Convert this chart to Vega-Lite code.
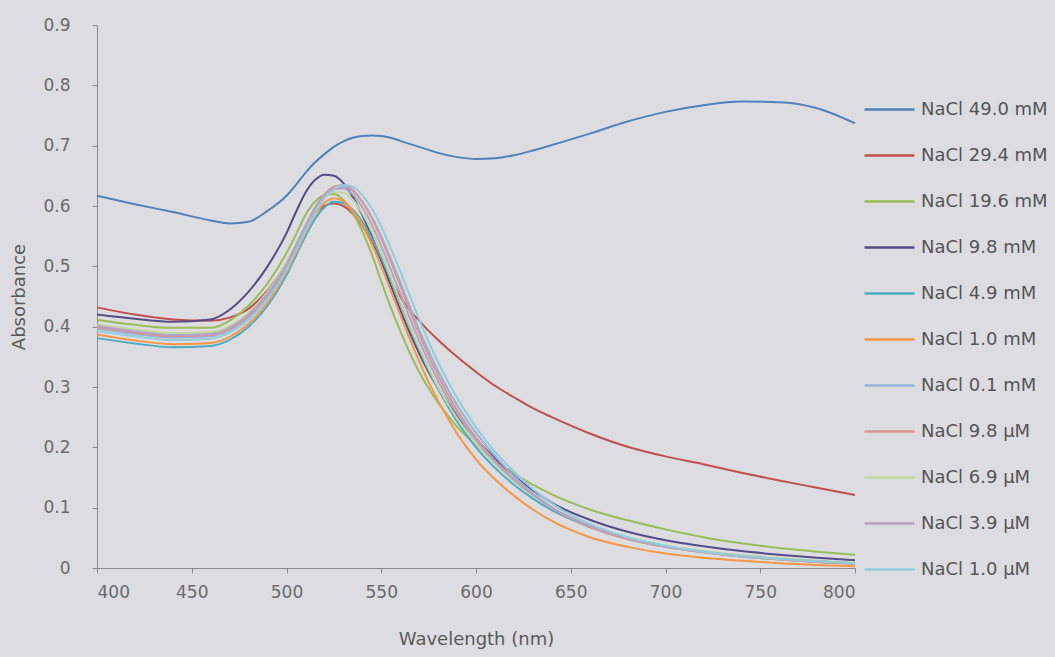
{
  "$schema": "https://vega.github.io/schema/vega-lite/v6.json",
  "autosize": {"type": "none"},
  "padding": {"left": 97, "top": 25, "right": 200, "bottom": 89},
  "width": 758,
  "height": 543,
  "background": "#dddde1",
  "config": {
    "view": {"stroke": null},
    "font": "DejaVu Sans",
    "axis": {"labelFont": "DejaVu Sans", "titleFont": "DejaVu Sans", "labelColor": "#6a6a6a", "titleColor": "#5a5a5a", "domainColor": "#8a8a8a", "tickColor": "#8a8a8a", "grid": false},
    "legend": {"labelFont": "DejaVu Sans"}
  },
  "data": {
    "values": [
      {"s":"NaCl 49.0 mM","w":400,"a":0.617},{"s":"NaCl 49.0 mM","w":420,"a":0.603},{"s":"NaCl 49.0 mM","w":440,"a":0.590},{"s":"NaCl 49.0 mM","w":460,"a":0.576},{"s":"NaCl 49.0 mM","w":470,"a":0.571},{"s":"NaCl 49.0 mM","w":480,"a":0.574},{"s":"NaCl 49.0 mM","w":490,"a":0.592},{"s":"NaCl 49.0 mM","w":500,"a":0.617},{"s":"NaCl 49.0 mM","w":505,"a":0.635},{"s":"NaCl 49.0 mM","w":510,"a":0.655},{"s":"NaCl 49.0 mM","w":515,"a":0.672},{"s":"NaCl 49.0 mM","w":520,"a":0.686},{"s":"NaCl 49.0 mM","w":525,"a":0.698},{"s":"NaCl 49.0 mM","w":530,"a":0.707},{"s":"NaCl 49.0 mM","w":535,"a":0.713},{"s":"NaCl 49.0 mM","w":540,"a":0.716},{"s":"NaCl 49.0 mM","w":545,"a":0.717},{"s":"NaCl 49.0 mM","w":550,"a":0.716},{"s":"NaCl 49.0 mM","w":555,"a":0.713},{"s":"NaCl 49.0 mM","w":560,"a":0.708},{"s":"NaCl 49.0 mM","w":565,"a":0.703},{"s":"NaCl 49.0 mM","w":570,"a":0.698},{"s":"NaCl 49.0 mM","w":575,"a":0.693},{"s":"NaCl 49.0 mM","w":580,"a":0.688},{"s":"NaCl 49.0 mM","w":590,"a":0.681},{"s":"NaCl 49.0 mM","w":600,"a":0.678},{"s":"NaCl 49.0 mM","w":610,"a":0.679},{"s":"NaCl 49.0 mM","w":620,"a":0.684},{"s":"NaCl 49.0 mM","w":630,"a":0.692},{"s":"NaCl 49.0 mM","w":640,"a":0.701},{"s":"NaCl 49.0 mM","w":660,"a":0.720},{"s":"NaCl 49.0 mM","w":680,"a":0.740},{"s":"NaCl 49.0 mM","w":700,"a":0.756},{"s":"NaCl 49.0 mM","w":720,"a":0.767},{"s":"NaCl 49.0 mM","w":740,"a":0.773},{"s":"NaCl 49.0 mM","w":760,"a":0.772},{"s":"NaCl 49.0 mM","w":780,"a":0.762},{"s":"NaCl 49.0 mM","w":800,"a":0.737},

      {"s":"NaCl 29.4 mM","w":400,"a":0.432},{"s":"NaCl 29.4 mM","w":420,"a":0.420},{"s":"NaCl 29.4 mM","w":440,"a":0.412},{"s":"NaCl 29.4 mM","w":460,"a":0.410},{"s":"NaCl 29.4 mM","w":470,"a":0.415},{"s":"NaCl 29.4 mM","w":480,"a":0.430},{"s":"NaCl 29.4 mM","w":490,"a":0.460},{"s":"NaCl 29.4 mM","w":500,"a":0.505},{"s":"NaCl 29.4 mM","w":505,"a":0.535},{"s":"NaCl 29.4 mM","w":510,"a":0.565},{"s":"NaCl 29.4 mM","w":515,"a":0.588},{"s":"NaCl 29.4 mM","w":520,"a":0.600},{"s":"NaCl 29.4 mM","w":525,"a":0.604},{"s":"NaCl 29.4 mM","w":530,"a":0.600},{"s":"NaCl 29.4 mM","w":535,"a":0.587},{"s":"NaCl 29.4 mM","w":540,"a":0.567},{"s":"NaCl 29.4 mM","w":545,"a":0.540},{"s":"NaCl 29.4 mM","w":550,"a":0.510},{"s":"NaCl 29.4 mM","w":555,"a":0.478},{"s":"NaCl 29.4 mM","w":560,"a":0.450},{"s":"NaCl 29.4 mM","w":565,"a":0.428},{"s":"NaCl 29.4 mM","w":570,"a":0.410},{"s":"NaCl 29.4 mM","w":575,"a":0.393},{"s":"NaCl 29.4 mM","w":580,"a":0.378},{"s":"NaCl 29.4 mM","w":590,"a":0.350},{"s":"NaCl 29.4 mM","w":600,"a":0.325},{"s":"NaCl 29.4 mM","w":610,"a":0.302},{"s":"NaCl 29.4 mM","w":620,"a":0.283},{"s":"NaCl 29.4 mM","w":630,"a":0.265},{"s":"NaCl 29.4 mM","w":640,"a":0.250},{"s":"NaCl 29.4 mM","w":660,"a":0.223},{"s":"NaCl 29.4 mM","w":680,"a":0.201},{"s":"NaCl 29.4 mM","w":700,"a":0.185},{"s":"NaCl 29.4 mM","w":720,"a":0.172},{"s":"NaCl 29.4 mM","w":740,"a":0.158},{"s":"NaCl 29.4 mM","w":760,"a":0.145},{"s":"NaCl 29.4 mM","w":780,"a":0.133},{"s":"NaCl 29.4 mM","w":800,"a":0.121},

      {"s":"NaCl 19.6 mM","w":400,"a":0.411},{"s":"NaCl 19.6 mM","w":420,"a":0.403},{"s":"NaCl 19.6 mM","w":440,"a":0.398},{"s":"NaCl 19.6 mM","w":460,"a":0.398},{"s":"NaCl 19.6 mM","w":470,"a":0.410},{"s":"NaCl 19.6 mM","w":480,"a":0.435},{"s":"NaCl 19.6 mM","w":490,"a":0.472},{"s":"NaCl 19.6 mM","w":500,"a":0.522},{"s":"NaCl 19.6 mM","w":505,"a":0.553},{"s":"NaCl 19.6 mM","w":510,"a":0.585},{"s":"NaCl 19.6 mM","w":515,"a":0.607},{"s":"NaCl 19.6 mM","w":520,"a":0.618},{"s":"NaCl 19.6 mM","w":525,"a":0.620},{"s":"NaCl 19.6 mM","w":530,"a":0.610},{"s":"NaCl 19.6 mM","w":535,"a":0.588},{"s":"NaCl 19.6 mM","w":540,"a":0.558},{"s":"NaCl 19.6 mM","w":545,"a":0.520},{"s":"NaCl 19.6 mM","w":550,"a":0.475},{"s":"NaCl 19.6 mM","w":555,"a":0.432},{"s":"NaCl 19.6 mM","w":560,"a":0.393},{"s":"NaCl 19.6 mM","w":565,"a":0.357},{"s":"NaCl 19.6 mM","w":570,"a":0.325},{"s":"NaCl 19.6 mM","w":575,"a":0.298},{"s":"NaCl 19.6 mM","w":580,"a":0.274},{"s":"NaCl 19.6 mM","w":590,"a":0.234},{"s":"NaCl 19.6 mM","w":600,"a":0.204},{"s":"NaCl 19.6 mM","w":610,"a":0.178},{"s":"NaCl 19.6 mM","w":620,"a":0.157},{"s":"NaCl 19.6 mM","w":630,"a":0.138},{"s":"NaCl 19.6 mM","w":640,"a":0.122},{"s":"NaCl 19.6 mM","w":660,"a":0.097},{"s":"NaCl 19.6 mM","w":680,"a":0.079},{"s":"NaCl 19.6 mM","w":700,"a":0.064},{"s":"NaCl 19.6 mM","w":720,"a":0.051},{"s":"NaCl 19.6 mM","w":740,"a":0.041},{"s":"NaCl 19.6 mM","w":760,"a":0.033},{"s":"NaCl 19.6 mM","w":780,"a":0.027},{"s":"NaCl 19.6 mM","w":800,"a":0.022},

      {"s":"NaCl 9.8 mM","w":400,"a":0.420},{"s":"NaCl 9.8 mM","w":420,"a":0.413},{"s":"NaCl 9.8 mM","w":440,"a":0.408},{"s":"NaCl 9.8 mM","w":460,"a":0.412},{"s":"NaCl 9.8 mM","w":470,"a":0.428},{"s":"NaCl 9.8 mM","w":480,"a":0.458},{"s":"NaCl 9.8 mM","w":490,"a":0.500},{"s":"NaCl 9.8 mM","w":500,"a":0.555},{"s":"NaCl 9.8 mM","w":505,"a":0.590},{"s":"NaCl 9.8 mM","w":510,"a":0.622},{"s":"NaCl 9.8 mM","w":515,"a":0.643},{"s":"NaCl 9.8 mM","w":520,"a":0.652},{"s":"NaCl 9.8 mM","w":525,"a":0.650},{"s":"NaCl 9.8 mM","w":530,"a":0.638},{"s":"NaCl 9.8 mM","w":535,"a":0.615},{"s":"NaCl 9.8 mM","w":540,"a":0.585},{"s":"NaCl 9.8 mM","w":545,"a":0.550},{"s":"NaCl 9.8 mM","w":550,"a":0.510},{"s":"NaCl 9.8 mM","w":555,"a":0.468},{"s":"NaCl 9.8 mM","w":560,"a":0.428},{"s":"NaCl 9.8 mM","w":565,"a":0.390},{"s":"NaCl 9.8 mM","w":570,"a":0.356},{"s":"NaCl 9.8 mM","w":575,"a":0.325},{"s":"NaCl 9.8 mM","w":580,"a":0.298},{"s":"NaCl 9.8 mM","w":590,"a":0.252},{"s":"NaCl 9.8 mM","w":600,"a":0.214},{"s":"NaCl 9.8 mM","w":610,"a":0.182},{"s":"NaCl 9.8 mM","w":620,"a":0.153},{"s":"NaCl 9.8 mM","w":630,"a":0.129},{"s":"NaCl 9.8 mM","w":640,"a":0.108},{"s":"NaCl 9.8 mM","w":660,"a":0.080},{"s":"NaCl 9.8 mM","w":680,"a":0.060},{"s":"NaCl 9.8 mM","w":700,"a":0.046},{"s":"NaCl 9.8 mM","w":720,"a":0.036},{"s":"NaCl 9.8 mM","w":740,"a":0.028},{"s":"NaCl 9.8 mM","w":760,"a":0.022},{"s":"NaCl 9.8 mM","w":780,"a":0.017},{"s":"NaCl 9.8 mM","w":800,"a":0.013},

      {"s":"NaCl 4.9 mM","w":400,"a":0.381},{"s":"NaCl 4.9 mM","w":420,"a":0.372},{"s":"NaCl 4.9 mM","w":440,"a":0.366},{"s":"NaCl 4.9 mM","w":460,"a":0.368},{"s":"NaCl 4.9 mM","w":470,"a":0.378},{"s":"NaCl 4.9 mM","w":480,"a":0.400},{"s":"NaCl 4.9 mM","w":490,"a":0.435},{"s":"NaCl 4.9 mM","w":500,"a":0.485},{"s":"NaCl 4.9 mM","w":505,"a":0.518},{"s":"NaCl 4.9 mM","w":510,"a":0.550},{"s":"NaCl 4.9 mM","w":515,"a":0.578},{"s":"NaCl 4.9 mM","w":520,"a":0.598},{"s":"NaCl 4.9 mM","w":525,"a":0.607},{"s":"NaCl 4.9 mM","w":530,"a":0.605},{"s":"NaCl 4.9 mM","w":535,"a":0.594},{"s":"NaCl 4.9 mM","w":540,"a":0.574},{"s":"NaCl 4.9 mM","w":545,"a":0.547},{"s":"NaCl 4.9 mM","w":550,"a":0.514},{"s":"NaCl 4.9 mM","w":555,"a":0.477},{"s":"NaCl 4.9 mM","w":560,"a":0.439},{"s":"NaCl 4.9 mM","w":565,"a":0.400},{"s":"NaCl 4.9 mM","w":570,"a":0.363},{"s":"NaCl 4.9 mM","w":575,"a":0.328},{"s":"NaCl 4.9 mM","w":580,"a":0.297},{"s":"NaCl 4.9 mM","w":590,"a":0.243},{"s":"NaCl 4.9 mM","w":600,"a":0.200},{"s":"NaCl 4.9 mM","w":610,"a":0.166},{"s":"NaCl 4.9 mM","w":620,"a":0.138},{"s":"NaCl 4.9 mM","w":630,"a":0.115},{"s":"NaCl 4.9 mM","w":640,"a":0.096},{"s":"NaCl 4.9 mM","w":660,"a":0.068},{"s":"NaCl 4.9 mM","w":680,"a":0.048},{"s":"NaCl 4.9 mM","w":700,"a":0.035},{"s":"NaCl 4.9 mM","w":720,"a":0.026},{"s":"NaCl 4.9 mM","w":740,"a":0.019},{"s":"NaCl 4.9 mM","w":760,"a":0.014},{"s":"NaCl 4.9 mM","w":780,"a":0.010},{"s":"NaCl 4.9 mM","w":800,"a":0.007},

      {"s":"NaCl 1.0 mM","w":400,"a":0.387},{"s":"NaCl 1.0 mM","w":420,"a":0.377},{"s":"NaCl 1.0 mM","w":440,"a":0.371},{"s":"NaCl 1.0 mM","w":460,"a":0.373},{"s":"NaCl 1.0 mM","w":470,"a":0.383},{"s":"NaCl 1.0 mM","w":480,"a":0.405},{"s":"NaCl 1.0 mM","w":490,"a":0.440},{"s":"NaCl 1.0 mM","w":500,"a":0.490},{"s":"NaCl 1.0 mM","w":505,"a":0.522},{"s":"NaCl 1.0 mM","w":510,"a":0.555},{"s":"NaCl 1.0 mM","w":515,"a":0.585},{"s":"NaCl 1.0 mM","w":520,"a":0.605},{"s":"NaCl 1.0 mM","w":525,"a":0.613},{"s":"NaCl 1.0 mM","w":530,"a":0.608},{"s":"NaCl 1.0 mM","w":535,"a":0.592},{"s":"NaCl 1.0 mM","w":540,"a":0.568},{"s":"NaCl 1.0 mM","w":545,"a":0.537},{"s":"NaCl 1.0 mM","w":550,"a":0.500},{"s":"NaCl 1.0 mM","w":555,"a":0.460},{"s":"NaCl 1.0 mM","w":560,"a":0.420},{"s":"NaCl 1.0 mM","w":565,"a":0.380},{"s":"NaCl 1.0 mM","w":570,"a":0.343},{"s":"NaCl 1.0 mM","w":575,"a":0.308},{"s":"NaCl 1.0 mM","w":580,"a":0.277},{"s":"NaCl 1.0 mM","w":590,"a":0.223},{"s":"NaCl 1.0 mM","w":600,"a":0.180},{"s":"NaCl 1.0 mM","w":610,"a":0.147},{"s":"NaCl 1.0 mM","w":620,"a":0.120},{"s":"NaCl 1.0 mM","w":630,"a":0.097},{"s":"NaCl 1.0 mM","w":640,"a":0.078},{"s":"NaCl 1.0 mM","w":660,"a":0.051},{"s":"NaCl 1.0 mM","w":680,"a":0.035},{"s":"NaCl 1.0 mM","w":700,"a":0.024},{"s":"NaCl 1.0 mM","w":720,"a":0.017},{"s":"NaCl 1.0 mM","w":740,"a":0.012},{"s":"NaCl 1.0 mM","w":760,"a":0.008},{"s":"NaCl 1.0 mM","w":780,"a":0.005},{"s":"NaCl 1.0 mM","w":800,"a":0.003},

      {"s":"NaCl 0.1 mM","w":400,"a":0.397},{"s":"NaCl 0.1 mM","w":420,"a":0.388},{"s":"NaCl 0.1 mM","w":440,"a":0.382},{"s":"NaCl 0.1 mM","w":460,"a":0.384},{"s":"NaCl 0.1 mM","w":470,"a":0.394},{"s":"NaCl 0.1 mM","w":480,"a":0.415},{"s":"NaCl 0.1 mM","w":490,"a":0.450},{"s":"NaCl 0.1 mM","w":500,"a":0.498},{"s":"NaCl 0.1 mM","w":505,"a":0.530},{"s":"NaCl 0.1 mM","w":510,"a":0.562},{"s":"NaCl 0.1 mM","w":515,"a":0.592},{"s":"NaCl 0.1 mM","w":520,"a":0.615},{"s":"NaCl 0.1 mM","w":525,"a":0.628},{"s":"NaCl 0.1 mM","w":530,"a":0.632},{"s":"NaCl 0.1 mM","w":535,"a":0.625},{"s":"NaCl 0.1 mM","w":540,"a":0.607},{"s":"NaCl 0.1 mM","w":545,"a":0.582},{"s":"NaCl 0.1 mM","w":550,"a":0.550},{"s":"NaCl 0.1 mM","w":555,"a":0.513},{"s":"NaCl 0.1 mM","w":560,"a":0.474},{"s":"NaCl 0.1 mM","w":565,"a":0.434},{"s":"NaCl 0.1 mM","w":570,"a":0.395},{"s":"NaCl 0.1 mM","w":575,"a":0.360},{"s":"NaCl 0.1 mM","w":580,"a":0.327},{"s":"NaCl 0.1 mM","w":590,"a":0.270},{"s":"NaCl 0.1 mM","w":600,"a":0.224},{"s":"NaCl 0.1 mM","w":610,"a":0.186},{"s":"NaCl 0.1 mM","w":620,"a":0.152},{"s":"NaCl 0.1 mM","w":630,"a":0.124},{"s":"NaCl 0.1 mM","w":640,"a":0.101},{"s":"NaCl 0.1 mM","w":660,"a":0.070},{"s":"NaCl 0.1 mM","w":680,"a":0.050},{"s":"NaCl 0.1 mM","w":700,"a":0.036},{"s":"NaCl 0.1 mM","w":720,"a":0.027},{"s":"NaCl 0.1 mM","w":740,"a":0.020},{"s":"NaCl 0.1 mM","w":760,"a":0.015},{"s":"NaCl 0.1 mM","w":780,"a":0.011},{"s":"NaCl 0.1 mM","w":800,"a":0.008},

      {"s":"NaCl 9.8 μM","w":400,"a":0.399},{"s":"NaCl 9.8 μM","w":420,"a":0.390},{"s":"NaCl 9.8 μM","w":440,"a":0.384},{"s":"NaCl 9.8 μM","w":460,"a":0.386},{"s":"NaCl 9.8 μM","w":470,"a":0.396},{"s":"NaCl 9.8 μM","w":480,"a":0.418},{"s":"NaCl 9.8 μM","w":490,"a":0.453},{"s":"NaCl 9.8 μM","w":500,"a":0.502},{"s":"NaCl 9.8 μM","w":505,"a":0.534},{"s":"NaCl 9.8 μM","w":510,"a":0.567},{"s":"NaCl 9.8 μM","w":515,"a":0.597},{"s":"NaCl 9.8 μM","w":520,"a":0.619},{"s":"NaCl 9.8 μM","w":525,"a":0.632},{"s":"NaCl 9.8 μM","w":530,"a":0.635},{"s":"NaCl 9.8 μM","w":535,"a":0.627},{"s":"NaCl 9.8 μM","w":540,"a":0.607},{"s":"NaCl 9.8 μM","w":545,"a":0.580},{"s":"NaCl 9.8 μM","w":550,"a":0.546},{"s":"NaCl 9.8 μM","w":555,"a":0.508},{"s":"NaCl 9.8 μM","w":560,"a":0.468},{"s":"NaCl 9.8 μM","w":565,"a":0.427},{"s":"NaCl 9.8 μM","w":570,"a":0.388},{"s":"NaCl 9.8 μM","w":575,"a":0.352},{"s":"NaCl 9.8 μM","w":580,"a":0.319},{"s":"NaCl 9.8 μM","w":590,"a":0.262},{"s":"NaCl 9.8 μM","w":600,"a":0.216},{"s":"NaCl 9.8 μM","w":610,"a":0.178},{"s":"NaCl 9.8 μM","w":620,"a":0.147},{"s":"NaCl 9.8 μM","w":630,"a":0.121},{"s":"NaCl 9.8 μM","w":640,"a":0.099},{"s":"NaCl 9.8 μM","w":660,"a":0.068},{"s":"NaCl 9.8 μM","w":680,"a":0.048},{"s":"NaCl 9.8 μM","w":700,"a":0.035},{"s":"NaCl 9.8 μM","w":720,"a":0.026},{"s":"NaCl 9.8 μM","w":740,"a":0.019},{"s":"NaCl 9.8 μM","w":760,"a":0.014},{"s":"NaCl 9.8 μM","w":780,"a":0.010},{"s":"NaCl 9.8 μM","w":800,"a":0.007},

      {"s":"NaCl 6.9 μM","w":400,"a":0.404},{"s":"NaCl 6.9 μM","w":420,"a":0.395},{"s":"NaCl 6.9 μM","w":440,"a":0.389},{"s":"NaCl 6.9 μM","w":460,"a":0.391},{"s":"NaCl 6.9 μM","w":470,"a":0.401},{"s":"NaCl 6.9 μM","w":480,"a":0.423},{"s":"NaCl 6.9 μM","w":490,"a":0.458},{"s":"NaCl 6.9 μM","w":500,"a":0.506},{"s":"NaCl 6.9 μM","w":505,"a":0.537},{"s":"NaCl 6.9 μM","w":510,"a":0.568},{"s":"NaCl 6.9 μM","w":515,"a":0.595},{"s":"NaCl 6.9 μM","w":520,"a":0.614},{"s":"NaCl 6.9 μM","w":525,"a":0.623},{"s":"NaCl 6.9 μM","w":530,"a":0.622},{"s":"NaCl 6.9 μM","w":535,"a":0.610},{"s":"NaCl 6.9 μM","w":540,"a":0.588},{"s":"NaCl 6.9 μM","w":545,"a":0.558},{"s":"NaCl 6.9 μM","w":550,"a":0.522},{"s":"NaCl 6.9 μM","w":555,"a":0.482},{"s":"NaCl 6.9 μM","w":560,"a":0.442},{"s":"NaCl 6.9 μM","w":565,"a":0.402},{"s":"NaCl 6.9 μM","w":570,"a":0.365},{"s":"NaCl 6.9 μM","w":575,"a":0.331},{"s":"NaCl 6.9 μM","w":580,"a":0.300},{"s":"NaCl 6.9 μM","w":590,"a":0.248},{"s":"NaCl 6.9 μM","w":600,"a":0.206},{"s":"NaCl 6.9 μM","w":610,"a":0.172},{"s":"NaCl 6.9 μM","w":620,"a":0.144},{"s":"NaCl 6.9 μM","w":630,"a":0.120},{"s":"NaCl 6.9 μM","w":640,"a":0.100},{"s":"NaCl 6.9 μM","w":660,"a":0.071},{"s":"NaCl 6.9 μM","w":680,"a":0.051},{"s":"NaCl 6.9 μM","w":700,"a":0.037},{"s":"NaCl 6.9 μM","w":720,"a":0.028},{"s":"NaCl 6.9 μM","w":740,"a":0.021},{"s":"NaCl 6.9 μM","w":760,"a":0.016},{"s":"NaCl 6.9 μM","w":780,"a":0.012},{"s":"NaCl 6.9 μM","w":800,"a":0.009},

      {"s":"NaCl 3.9 μM","w":400,"a":0.401},{"s":"NaCl 3.9 μM","w":420,"a":0.392},{"s":"NaCl 3.9 μM","w":440,"a":0.386},{"s":"NaCl 3.9 μM","w":460,"a":0.388},{"s":"NaCl 3.9 μM","w":470,"a":0.398},{"s":"NaCl 3.9 μM","w":480,"a":0.420},{"s":"NaCl 3.9 μM","w":490,"a":0.455},{"s":"NaCl 3.9 μM","w":500,"a":0.503},{"s":"NaCl 3.9 μM","w":505,"a":0.535},{"s":"NaCl 3.9 μM","w":510,"a":0.567},{"s":"NaCl 3.9 μM","w":515,"a":0.596},{"s":"NaCl 3.9 μM","w":520,"a":0.617},{"s":"NaCl 3.9 μM","w":525,"a":0.628},{"s":"NaCl 3.9 μM","w":530,"a":0.629},{"s":"NaCl 3.9 μM","w":535,"a":0.619},{"s":"NaCl 3.9 μM","w":540,"a":0.598},{"s":"NaCl 3.9 μM","w":545,"a":0.569},{"s":"NaCl 3.9 μM","w":550,"a":0.534},{"s":"NaCl 3.9 μM","w":555,"a":0.495},{"s":"NaCl 3.9 μM","w":560,"a":0.455},{"s":"NaCl 3.9 μM","w":565,"a":0.415},{"s":"NaCl 3.9 μM","w":570,"a":0.377},{"s":"NaCl 3.9 μM","w":575,"a":0.342},{"s":"NaCl 3.9 μM","w":580,"a":0.310},{"s":"NaCl 3.9 μM","w":590,"a":0.256},{"s":"NaCl 3.9 μM","w":600,"a":0.212},{"s":"NaCl 3.9 μM","w":610,"a":0.176},{"s":"NaCl 3.9 μM","w":620,"a":0.146},{"s":"NaCl 3.9 μM","w":630,"a":0.121},{"s":"NaCl 3.9 μM","w":640,"a":0.100},{"s":"NaCl 3.9 μM","w":660,"a":0.070},{"s":"NaCl 3.9 μM","w":680,"a":0.050},{"s":"NaCl 3.9 μM","w":700,"a":0.036},{"s":"NaCl 3.9 μM","w":720,"a":0.027},{"s":"NaCl 3.9 μM","w":740,"a":0.020},{"s":"NaCl 3.9 μM","w":760,"a":0.015},{"s":"NaCl 3.9 μM","w":780,"a":0.011},{"s":"NaCl 3.9 μM","w":800,"a":0.008},

      {"s":"NaCl 1.0 μM","w":400,"a":0.393},{"s":"NaCl 1.0 μM","w":420,"a":0.384},{"s":"NaCl 1.0 μM","w":440,"a":0.378},{"s":"NaCl 1.0 μM","w":460,"a":0.380},{"s":"NaCl 1.0 μM","w":470,"a":0.390},{"s":"NaCl 1.0 μM","w":480,"a":0.411},{"s":"NaCl 1.0 μM","w":490,"a":0.446},{"s":"NaCl 1.0 μM","w":500,"a":0.494},{"s":"NaCl 1.0 μM","w":505,"a":0.526},{"s":"NaCl 1.0 μM","w":510,"a":0.558},{"s":"NaCl 1.0 μM","w":515,"a":0.588},{"s":"NaCl 1.0 μM","w":520,"a":0.613},{"s":"NaCl 1.0 μM","w":525,"a":0.628},{"s":"NaCl 1.0 μM","w":530,"a":0.635},{"s":"NaCl 1.0 μM","w":535,"a":0.632},{"s":"NaCl 1.0 μM","w":540,"a":0.618},{"s":"NaCl 1.0 μM","w":545,"a":0.596},{"s":"NaCl 1.0 μM","w":550,"a":0.566},{"s":"NaCl 1.0 μM","w":555,"a":0.530},{"s":"NaCl 1.0 μM","w":560,"a":0.492},{"s":"NaCl 1.0 μM","w":565,"a":0.452},{"s":"NaCl 1.0 μM","w":570,"a":0.412},{"s":"NaCl 1.0 μM","w":575,"a":0.375},{"s":"NaCl 1.0 μM","w":580,"a":0.341},{"s":"NaCl 1.0 μM","w":590,"a":0.282},{"s":"NaCl 1.0 μM","w":600,"a":0.233},{"s":"NaCl 1.0 μM","w":610,"a":0.193},{"s":"NaCl 1.0 μM","w":620,"a":0.160},{"s":"NaCl 1.0 μM","w":630,"a":0.131},{"s":"NaCl 1.0 μM","w":640,"a":0.107},{"s":"NaCl 1.0 μM","w":660,"a":0.073},{"s":"NaCl 1.0 μM","w":680,"a":0.051},{"s":"NaCl 1.0 μM","w":700,"a":0.037},{"s":"NaCl 1.0 μM","w":720,"a":0.027},{"s":"NaCl 1.0 μM","w":740,"a":0.020},{"s":"NaCl 1.0 μM","w":760,"a":0.015},{"s":"NaCl 1.0 μM","w":780,"a":0.011},{"s":"NaCl 1.0 μM","w":800,"a":0.008}
    ]
  },
  "mark": {"type": "line", "interpolate": "monotone", "strokeWidth": 2},
  "encoding": {
    "x": {
      "field": "w", "type": "quantitative",
      "scale": {"domain": [400, 800], "nice": false, "zero": false},
      "axis": {"values": [400, 450, 500, 550, 600, 650, 700, 750, 800], "title": "Wavelength (nm)", "titleFontSize": 18, "titleFontWeight": "normal", "titlePadding": 30, "labelFontSize": 17, "labelPadding": 11, "tickSize": 5}
    },
    "y": {
      "field": "a", "type": "quantitative",
      "scale": {"domain": [0, 0.9], "nice": false},
      "axis": {"values": [0, 0.1, 0.2, 0.3, 0.4, 0.5, 0.6, 0.7, 0.8, 0.9], "format": "~g", "title": "Absorbance", "titleFontSize": 18, "titleFontWeight": "normal", "titlePadding": 14, "labelFontSize": 17, "labelPadding": 22, "tickSize": 5}
    },
    "color": {
      "field": "s", "type": "nominal",
      "scale": {
        "domain": ["NaCl 49.0 mM", "NaCl 29.4 mM", "NaCl 19.6 mM", "NaCl 9.8 mM", "NaCl 4.9 mM", "NaCl 1.0 mM", "NaCl 0.1 mM", "NaCl 9.8 μM", "NaCl 6.9 μM", "NaCl 3.9 μM", "NaCl 1.0 μM"],
        "range": ["#4f81bd", "#c0504d", "#9bbb59", "#544d87", "#4bacc6", "#f79646", "#95b3d7", "#d99694", "#c3d69b", "#b3a2c7", "#93cddd"]
      },
      "legend": {
        "title": null, "orient": "none", "legendX": 766, "legendY": 58,
        "symbolType": "stroke", "symbolSize": 2500, "symbolStrokeWidth": 2.5,
        "labelFontSize": 18, "labelColor": "#555555", "labelOffset": 5, "rowPadding": 10, "padding": 0
      }
    }
  }
}
